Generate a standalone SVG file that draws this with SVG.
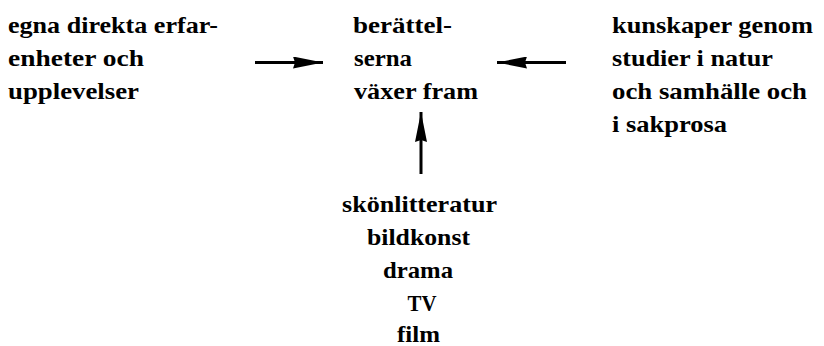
<svg xmlns="http://www.w3.org/2000/svg" width="824" height="346" viewBox="0 0 824 346">
<style>
.t{font-weight:bold;font-size:23px;fill:#000}
.c{text-anchor:middle}
.ln{stroke:#000;stroke-width:3;fill:none}
</style>
<defs>
<marker id="ah" viewBox="0 0 30 12" refX="30" refY="6" markerWidth="30" markerHeight="12" markerUnits="userSpaceOnUse" orient="auto">
<path d="M0,0 L30,6 L0,12 L2,6 z" fill="#000"/>
</marker>
</defs>
<rect width="824" height="346" fill="#fff"/>
<g id="egna" class="t" font-family="Liberation Serif, serif">
<text x="8" y="33" textLength="210" lengthAdjust="spacingAndGlyphs">egna direkta erfar-</text>
<text x="8" y="66" textLength="136" lengthAdjust="spacingAndGlyphs">enheter och</text>
<text x="8" y="99" textLength="131" lengthAdjust="spacingAndGlyphs">upplevelser</text>
</g>
<g id="berattelserna" class="t" font-family="Liberation Serif, serif">
<text x="353" y="33" textLength="99" lengthAdjust="spacingAndGlyphs">berättel-</text>
<text x="354" y="66" textLength="58" lengthAdjust="spacingAndGlyphs">serna</text>
<text x="354" y="99" textLength="124" lengthAdjust="spacingAndGlyphs">växer fram</text>
</g>
<g id="kunskaper" class="t" font-family="Liberation Serif, serif">
<text x="612" y="33" textLength="201" lengthAdjust="spacingAndGlyphs">kunskaper genom</text>
<text x="612" y="66" textLength="161" lengthAdjust="spacingAndGlyphs">studier i natur</text>
<text x="612" y="99" textLength="195" lengthAdjust="spacingAndGlyphs">och samhälle och</text>
<text x="612" y="132" textLength="115" lengthAdjust="spacingAndGlyphs">i sakprosa</text>
</g>
<g id="kallor" class="t c" font-family="Liberation Serif, serif">
<text x="419.5" y="212" textLength="155" lengthAdjust="spacingAndGlyphs">skönlitteratur</text>
<text x="418.5" y="245" textLength="103" lengthAdjust="spacingAndGlyphs">bildkonst</text>
<text x="418" y="278" textLength="70" lengthAdjust="spacingAndGlyphs">drama</text>
<text x="422" y="311" textLength="29" lengthAdjust="spacingAndGlyphs">TV</text>
<text x="418.5" y="342" textLength="43" lengthAdjust="spacingAndGlyphs">film</text>
</g>
<g id="connectors">
<line class="ln" x1="255" y1="62.5" x2="323" y2="62.5" marker-end="url(#ah)"/>
<line class="ln" x1="566" y1="62.5" x2="497" y2="62.5" marker-end="url(#ah)"/>
<line class="ln" x1="421" y1="174" x2="421" y2="112" marker-end="url(#ah)"/>
</g>
</svg>
